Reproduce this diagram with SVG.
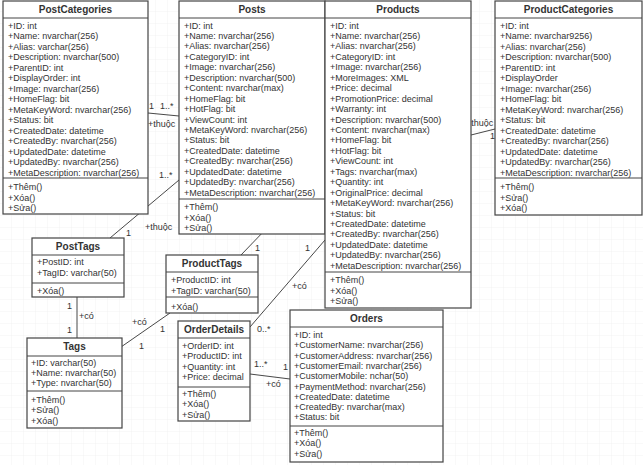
<svg xmlns="http://www.w3.org/2000/svg" width="643" height="465" viewBox="0 0 643 465">
<style>
text{font-family:"Liberation Sans",Arial,sans-serif;font-size:9px;fill:#333}
.h{font-weight:bold;font-size:10px;text-anchor:middle}
.b{fill:#fff;stroke:#444;stroke-width:1.2}
.s{stroke:#444;stroke-width:1}
.c line,.c polyline{stroke:#333;stroke-width:0.9;fill:none}
</style>
<defs><pattern id="g" width="12" height="12" patternUnits="userSpaceOnUse"><path d="M12 0V12H0" fill="none" stroke="#ececec" stroke-width="0.6"/></pattern></defs>
<rect width="643" height="465" fill="#fff"/>
<rect width="643" height="465" fill="url(#g)"/>
<g class="c" id="connectors">
<line x1="148" y1="113" x2="179" y2="116"/>
<line x1="110" y1="238" x2="179" y2="180"/>
<polyline points="241,255 267,228 325,196"/>
<line x1="250" y1="327" x2="325" y2="240"/>
<line x1="250" y1="374" x2="290" y2="379"/>
<line x1="77" y1="297" x2="77" y2="338"/>
<line x1="121" y1="347" x2="170" y2="313"/>
<line x1="471" y1="135" x2="495" y2="129"/>
<text x="149" y="109">1</text><text x="160" y="109">1..*</text><text x="148" y="127">+thuộc</text>
<text x="159" y="178">1..*</text><text x="145" y="230">+thuộc</text><text x="126" y="236">1</text>
<text x="306" y="214">1..*</text><text x="268" y="232">+thuộc</text><text x="255" y="251">1</text>
<text x="305" y="251">1</text><text x="292" y="289">+có</text><text x="257" y="332">0..*</text>
<text x="254" y="367">1..*</text><text x="283" y="370">1</text><text x="266" y="387">+có</text>
<text x="67" y="309">1</text><text x="79" y="319">+có</text><text x="67" y="333">1</text>
<text x="132" y="325">+có</text><text x="160" y="332">1</text><text x="139" y="349">1</text>
<text x="466" y="126">+thuộc</text><text x="490" y="139">1</text><text x="447" y="147">1..*</text>
</g>
<g id="PostCategories">
<rect class="b" x="3" y="1" width="145" height="213"/><line class="s" x1="3" y1="18" x2="148" y2="18"/><line class="s" x1="3" y1="178" x2="148" y2="178"/>
<text class="h" x="75.5" y="13">PostCategories</text>
<text x="8" y="28.5">+ID: int<tspan x="8" dy="10.5">+Name: nvarchar(256)</tspan><tspan x="8" dy="10.5">+Alias: varchar(256)</tspan><tspan x="8" dy="10.5">+Description: nvarchar(500)</tspan><tspan x="8" dy="10.5">+ParentID: int</tspan><tspan x="8" dy="10.5">+DisplayOrder: int</tspan><tspan x="8" dy="10.5">+Image: nvarchar(256)</tspan><tspan x="8" dy="10.5">+HomeFlag: bit</tspan><tspan x="8" dy="10.5">+MetaKeyWord: nvarchar(256)</tspan><tspan x="8" dy="10.5">+Status: bit</tspan><tspan x="8" dy="10.5">+CreatedDate: datetime</tspan><tspan x="8" dy="10.5">+CreatedBy: nvarchar(256)</tspan><tspan x="8" dy="10.5">+UpdatedDate: datetime</tspan><tspan x="8" dy="10.5">+UpdatedBy: nvarchar(256)</tspan><tspan x="8" dy="10.5">+MetaDescription: nvarchar(256)</tspan></text>
<text x="8" y="190">+Thêm()<tspan x="8" dy="10.5">+Xóa()</tspan><tspan x="8" dy="10.5">+Sửa()</tspan></text>
</g>
<g id="Posts">
<rect class="b" x="179" y="1" width="146" height="233"/><line class="s" x1="179" y1="18" x2="325" y2="18"/><line class="s" x1="179" y1="199" x2="325" y2="199"/>
<text class="h" x="252" y="13">Posts</text>
<text x="184" y="28.5">+ID: int<tspan x="184" dy="10.45">+Name: nvarchar(256)</tspan><tspan x="184" dy="10.45">+Alias: nvarchar(256)</tspan><tspan x="184" dy="10.45">+CategoryID: int</tspan><tspan x="184" dy="10.45">+Image: nvarchar(256)</tspan><tspan x="184" dy="10.45">+Description: nvarchar(500)</tspan><tspan x="184" dy="10.45">+Content: nvarchar(max)</tspan><tspan x="184" dy="10.45">+HomeFlag: bit</tspan><tspan x="184" dy="10.45">+HotFlag: bit</tspan><tspan x="184" dy="10.45">+ViewCount: int</tspan><tspan x="184" dy="10.45">+MetaKeyWord: nvarchar(256)</tspan><tspan x="184" dy="10.45">+Status: bit</tspan><tspan x="184" dy="10.45">+CreatedDate: datetime</tspan><tspan x="184" dy="10.45">+CreatedBy: nvarchar(256)</tspan><tspan x="184" dy="10.45">+UpdatedDate: datetime</tspan><tspan x="184" dy="10.45">+UpdatedBy: nvarchar(256)</tspan><tspan x="184" dy="10.45">+MetaDescription: nvarchar(256)</tspan></text>
<text x="184" y="210">+Thêm()<tspan x="184" dy="10.5">+Xóa()</tspan><tspan x="184" dy="10.5">+Sửa()</tspan></text>
</g>
<g id="Products">
<rect class="b" x="325" y="1" width="146" height="307"/><line class="s" x1="325" y1="18" x2="471" y2="18"/><line class="s" x1="325" y1="272" x2="471" y2="272"/>
<text class="h" x="398" y="13">Products</text>
<text x="330" y="28.5">+ID: int<tspan x="330" dy="10.45">+Name: nvarchar(256)</tspan><tspan x="330" dy="10.45">+Alias: nvarchar(256)</tspan><tspan x="330" dy="10.45">+CategoryID: int</tspan><tspan x="330" dy="10.45">+Image: nvarchar(256)</tspan><tspan x="330" dy="10.45">+MoreImages: XML</tspan><tspan x="330" dy="10.45">+Price: decimal</tspan><tspan x="330" dy="10.45">+PromotionPrice: decimal</tspan><tspan x="330" dy="10.45">+Warranty: int</tspan><tspan x="330" dy="10.45">+Description: nvarchar(500)</tspan><tspan x="330" dy="10.45">+Content: nvarchar(max)</tspan><tspan x="330" dy="10.45">+HomeFlag: bit</tspan><tspan x="330" dy="10.45">+HotFlag: bit</tspan><tspan x="330" dy="10.45">+ViewCount: int</tspan><tspan x="330" dy="10.45">+Tags: nvarchar(max)</tspan><tspan x="330" dy="10.45">+Quantity: int</tspan><tspan x="330" dy="10.45">+OriginalPrice: decimal</tspan><tspan x="330" dy="10.45">+MetaKeyWord: nvarchar(256)</tspan><tspan x="330" dy="10.45">+Status: bit</tspan><tspan x="330" dy="10.45">+CreatedDate: datetime</tspan><tspan x="330" dy="10.45">+CreatedBy: nvarchar(256)</tspan><tspan x="330" dy="10.45">+UpdatedDate: datetime</tspan><tspan x="330" dy="10.45">+UpdatedBy: nvarchar(256)</tspan><tspan x="330" dy="10.45">+MetaDescription: nvarchar(256)</tspan></text>
<text x="330" y="283">+Thêm()<tspan x="330" dy="10.5">+Xóa()</tspan><tspan x="330" dy="10.5">+Sửa()</tspan></text>
</g>
<g id="ProductCategories">
<rect class="b" x="495" y="1" width="147" height="214"/><line class="s" x1="495" y1="18" x2="642" y2="18"/><line class="s" x1="495" y1="178" x2="642" y2="178"/>
<text class="h" x="568.5" y="13">ProductCategories</text>
<text x="500" y="28.5">+ID: int<tspan x="500" dy="10.5">+Name: nvarchar9256)</tspan><tspan x="500" dy="10.5">+Alias: nvarchar(256)</tspan><tspan x="500" dy="10.5">+Description: nvarchar(500)</tspan><tspan x="500" dy="10.5">+ParentID: int</tspan><tspan x="500" dy="10.5">+DisplayOrder</tspan><tspan x="500" dy="10.5">+Image: nvarchar(256)</tspan><tspan x="500" dy="10.5">+HomeFlag: bit</tspan><tspan x="500" dy="10.5">+MetaKeyWord: nvarchar(256)</tspan><tspan x="500" dy="10.5">+Status: bit</tspan><tspan x="500" dy="10.5">+CreatedDate: datetime</tspan><tspan x="500" dy="10.5">+CreatedBy: nvarchar(256)</tspan><tspan x="500" dy="10.5">+UpdatedDate: datetime</tspan><tspan x="500" dy="10.5">+UpdatedBy: nvarchar(256)</tspan><tspan x="500" dy="10.5">+MetaDescription: nvarchar(256)</tspan></text>
<text x="500" y="190">+Thêm()<tspan x="500" dy="10.5">+Sửa()</tspan><tspan x="500" dy="10.5">+Xóa()</tspan></text>
</g>
<g id="PostTags">
<rect class="b" x="32" y="238" width="92" height="59"/><line class="s" x1="32" y1="255" x2="124" y2="255"/><line class="s" x1="32" y1="283" x2="124" y2="283"/>
<text class="h" x="78" y="250">PostTags</text>
<text x="37" y="265">+PostID: int<tspan x="37" dy="10.5">+TagID: varchar(50)</tspan></text>
<text x="37" y="294">+Xóa()</text>
</g>
<g id="ProductTags">
<rect class="b" x="166" y="255" width="92" height="58"/><line class="s" x1="166" y1="272" x2="258" y2="272"/><line class="s" x1="166" y1="297" x2="258" y2="297"/>
<text class="h" x="212" y="267">ProductTags</text>
<text x="171" y="283">+ProductID: int<tspan x="171" dy="10.5">+TagID: varchar(50)</tspan></text>
<text x="171" y="310">+Xóa()</text>
</g>
<g id="Tags">
<rect class="b" x="27" y="338" width="95" height="90"/><line class="s" x1="27" y1="356" x2="122" y2="356"/><line class="s" x1="27" y1="391" x2="122" y2="391"/>
<text class="h" x="74.5" y="350">Tags</text>
<text x="31" y="365.5">+ID: varchar(50)<tspan x="31" dy="10.3">+Name: nvarchar(50)</tspan><tspan x="31" dy="10.3">+Type: nvarchar(50)</tspan></text>
<text x="31" y="402.5">+Thêm()<tspan x="31" dy="10.5">+Sửa()</tspan><tspan x="31" dy="10.5">+Xóa()</tspan></text>
</g>
<g id="OrderDetails">
<rect class="b" x="178" y="321" width="72" height="100"/><line class="s" x1="178" y1="338" x2="250" y2="338"/><line class="s" x1="178" y1="387" x2="250" y2="387"/>
<text class="h" x="214" y="333">OrderDetails</text>
<text x="182" y="349">+OrderID: int<tspan x="182" dy="10.3">+ProductID: int</tspan><tspan x="182" dy="10.3">+Quantity: int</tspan><tspan x="182" dy="10.3">+Price: decimal</tspan></text>
<text x="182" y="397">+Thêm()<tspan x="182" dy="10.3">+Xóa()</tspan><tspan x="182" dy="10.3">+Sửa()</tspan></text>
</g>
<g id="Orders">
<rect class="b" x="290" y="310" width="153" height="152"/><line class="s" x1="290" y1="327" x2="443" y2="327"/><line class="s" x1="290" y1="426" x2="443" y2="426"/>
<text class="h" x="366.5" y="322">Orders</text>
<text x="294" y="338">+ID: int<tspan x="294" dy="10.3">+CustomerName: nvarchar(256)</tspan><tspan x="294" dy="10.3">+CustomerAddress: nvarchar(256)</tspan><tspan x="294" dy="10.3">+CustomerEmail: nvarchar(256)</tspan><tspan x="294" dy="10.3">+CustomerMobile: nchar(50)</tspan><tspan x="294" dy="10.3">+PaymentMethod: nvarchar(256)</tspan><tspan x="294" dy="10.3">+CreatedDate: datetime</tspan><tspan x="294" dy="10.3">+CreatedBy: nvarchar(max)</tspan><tspan x="294" dy="10.3">+Status: bit</tspan></text>
<text x="294" y="436">+Thêm()<tspan x="294" dy="10.3">+Xóa()</tspan><tspan x="294" dy="10.3">+Sửa()</tspan></text>
</g>
</svg>
